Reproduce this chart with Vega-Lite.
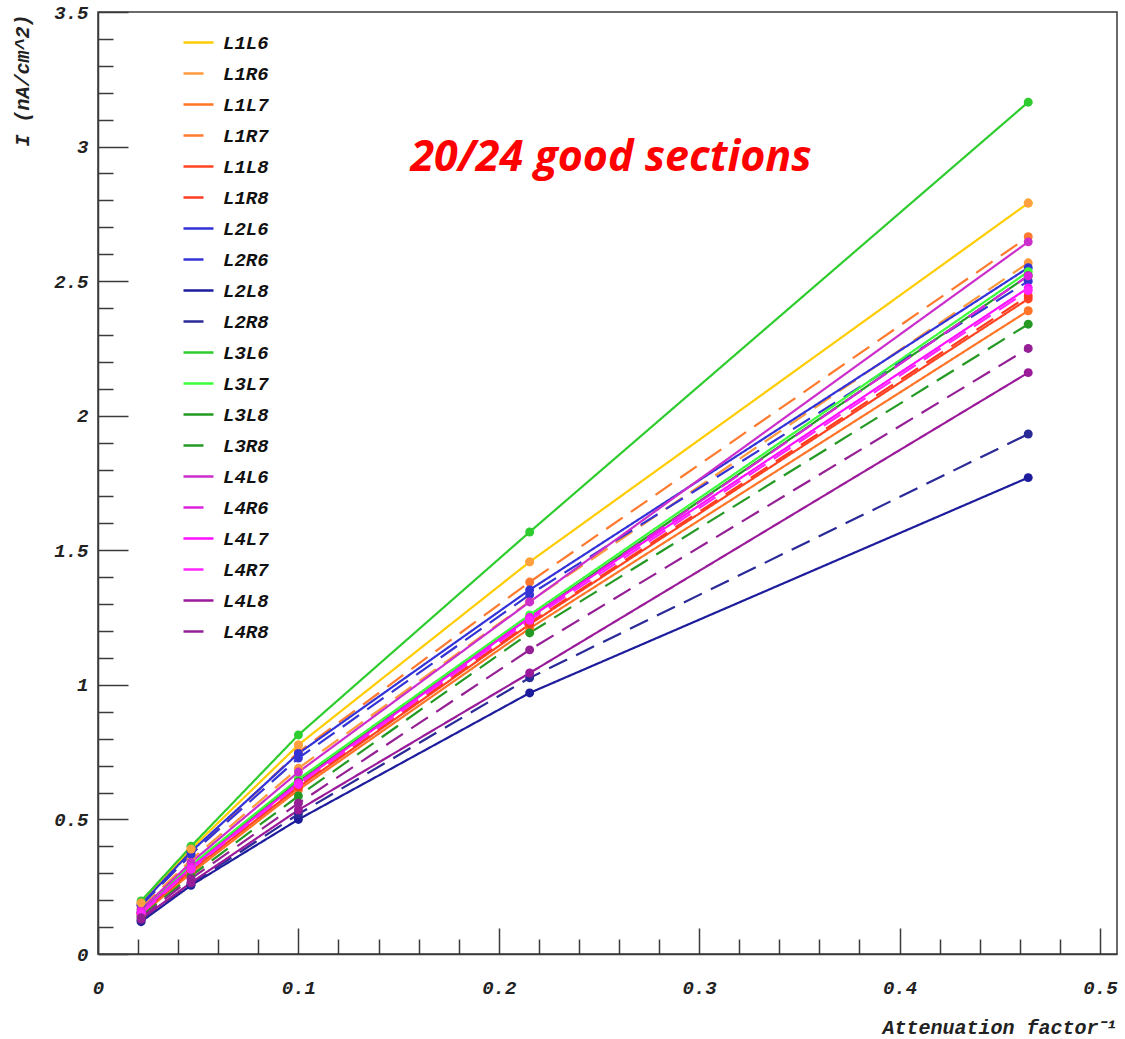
{
  "$schema": "https://vega.github.io/schema/vega-lite/v6.json",
  "width": 1019,
  "height": 942,
  "autosize": {"type": "none"},
  "padding": {"left": 98, "top": 12, "right": 8, "bottom": 85},
  "background": "white",
  "config": {
    "view": {"stroke": "#3a3a3a", "strokeWidth": 1.5},
    "axis": {
      "grid": false,
      "domainColor": "#3a3a3a",
      "domainWidth": 1.5,
      "tickColor": "#3a3a3a",
      "tickWidth": 1.5,
      "labelFont": "Liberation Mono",
      "labelFontStyle": "italic",
      "labelFontWeight": "bold",
      "labelFontSize": 19,
      "labelColor": "#222222",
      "labelFlush": false,
      "labelOverlap": false,
      "labelBound": false,
      "titleFont": "Liberation Mono",
      "titleFontStyle": "italic",
      "titleFontWeight": "bold",
      "titleFontSize": 20,
      "titleColor": "#222222"
    }
  },
  "data": {
    "values": [
      {"series": "L1L6", "x": 0.0215, "y": 0.19}, {"series": "L1L6", "x": 0.0464, "y": 0.39}, {"series": "L1L6", "x": 0.1, "y": 0.777}, {"series": "L1L6", "x": 0.2154, "y": 1.457}, {"series": "L1L6", "x": 0.4642, "y": 2.79},
      {"series": "L1R6", "x": 0.0215, "y": 0.17}, {"series": "L1R6", "x": 0.0464, "y": 0.35}, {"series": "L1R6", "x": 0.1, "y": 0.69}, {"series": "L1R6", "x": 0.2154, "y": 1.31}, {"series": "L1R6", "x": 0.4642, "y": 2.568},
      {"series": "L1L7", "x": 0.0215, "y": 0.145}, {"series": "L1L7", "x": 0.0464, "y": 0.3}, {"series": "L1L7", "x": 0.1, "y": 0.61}, {"series": "L1L7", "x": 0.2154, "y": 1.21}, {"series": "L1L7", "x": 0.4642, "y": 2.39},
      {"series": "L1R7", "x": 0.0215, "y": 0.18}, {"series": "L1R7", "x": 0.0464, "y": 0.37}, {"series": "L1R7", "x": 0.1, "y": 0.75}, {"series": "L1R7", "x": 0.2154, "y": 1.382}, {"series": "L1R7", "x": 0.4642, "y": 2.665},
      {"series": "L1L8", "x": 0.0215, "y": 0.15}, {"series": "L1L8", "x": 0.0464, "y": 0.31}, {"series": "L1L8", "x": 0.1, "y": 0.62}, {"series": "L1L8", "x": 0.2154, "y": 1.225}, {"series": "L1L8", "x": 0.4642, "y": 2.434},
      {"series": "L1R8", "x": 0.0215, "y": 0.15}, {"series": "L1R8", "x": 0.0464, "y": 0.31}, {"series": "L1R8", "x": 0.1, "y": 0.625}, {"series": "L1R8", "x": 0.2154, "y": 1.23}, {"series": "L1R8", "x": 0.4642, "y": 2.445},
      {"series": "L2L6", "x": 0.0215, "y": 0.185}, {"series": "L2L6", "x": 0.0464, "y": 0.38}, {"series": "L2L6", "x": 0.1, "y": 0.745}, {"series": "L2L6", "x": 0.2154, "y": 1.353}, {"series": "L2L6", "x": 0.4642, "y": 2.55},
      {"series": "L2R6", "x": 0.0215, "y": 0.18}, {"series": "L2R6", "x": 0.0464, "y": 0.37}, {"series": "L2R6", "x": 0.1, "y": 0.728}, {"series": "L2R6", "x": 0.2154, "y": 1.335}, {"series": "L2R6", "x": 0.4642, "y": 2.5},
      {"series": "L2L8", "x": 0.0215, "y": 0.12}, {"series": "L2L8", "x": 0.0464, "y": 0.255}, {"series": "L2L8", "x": 0.1, "y": 0.5}, {"series": "L2L8", "x": 0.2154, "y": 0.97}, {"series": "L2L8", "x": 0.4642, "y": 1.77},
      {"series": "L2R8", "x": 0.0215, "y": 0.125}, {"series": "L2R8", "x": 0.0464, "y": 0.26}, {"series": "L2R8", "x": 0.1, "y": 0.52}, {"series": "L2R8", "x": 0.2154, "y": 1.026}, {"series": "L2R8", "x": 0.4642, "y": 1.932},
      {"series": "L3L6", "x": 0.0215, "y": 0.197}, {"series": "L3L6", "x": 0.0464, "y": 0.4}, {"series": "L3L6", "x": 0.1, "y": 0.814}, {"series": "L3L6", "x": 0.2154, "y": 1.568}, {"series": "L3L6", "x": 0.4642, "y": 3.165},
      {"series": "L3L7", "x": 0.0215, "y": 0.16}, {"series": "L3L7", "x": 0.0464, "y": 0.33}, {"series": "L3L7", "x": 0.1, "y": 0.65}, {"series": "L3L7", "x": 0.2154, "y": 1.26}, {"series": "L3L7", "x": 0.4642, "y": 2.535},
      {"series": "L3L8", "x": 0.0215, "y": 0.155}, {"series": "L3L8", "x": 0.0464, "y": 0.32}, {"series": "L3L8", "x": 0.1, "y": 0.64}, {"series": "L3L8", "x": 0.2154, "y": 1.25}, {"series": "L3L8", "x": 0.4642, "y": 2.52},
      {"series": "L3R8", "x": 0.0215, "y": 0.14}, {"series": "L3R8", "x": 0.0464, "y": 0.29}, {"series": "L3R8", "x": 0.1, "y": 0.587}, {"series": "L3R8", "x": 0.2154, "y": 1.193}, {"series": "L3R8", "x": 0.4642, "y": 2.34},
      {"series": "L4L6", "x": 0.0215, "y": 0.165}, {"series": "L4L6", "x": 0.0464, "y": 0.34}, {"series": "L4L6", "x": 0.1, "y": 0.676}, {"series": "L4L6", "x": 0.2154, "y": 1.308}, {"series": "L4L6", "x": 0.4642, "y": 2.646},
      {"series": "L4R6", "x": 0.0215, "y": 0.155}, {"series": "L4R6", "x": 0.0464, "y": 0.32}, {"series": "L4R6", "x": 0.1, "y": 0.635}, {"series": "L4R6", "x": 0.2154, "y": 1.245}, {"series": "L4R6", "x": 0.4642, "y": 2.52},
      {"series": "L4L7", "x": 0.0215, "y": 0.155}, {"series": "L4L7", "x": 0.0464, "y": 0.32}, {"series": "L4L7", "x": 0.1, "y": 0.635}, {"series": "L4L7", "x": 0.2154, "y": 1.25}, {"series": "L4L7", "x": 0.4642, "y": 2.475},
      {"series": "L4R7", "x": 0.0215, "y": 0.15}, {"series": "L4R7", "x": 0.0464, "y": 0.315}, {"series": "L4R7", "x": 0.1, "y": 0.63}, {"series": "L4R7", "x": 0.2154, "y": 1.24}, {"series": "L4R7", "x": 0.4642, "y": 2.465},
      {"series": "L4L8", "x": 0.0215, "y": 0.13}, {"series": "L4L8", "x": 0.0464, "y": 0.265}, {"series": "L4L8", "x": 0.1, "y": 0.535}, {"series": "L4L8", "x": 0.2154, "y": 1.044}, {"series": "L4L8", "x": 0.4642, "y": 2.16},
      {"series": "L4R8", "x": 0.0215, "y": 0.135}, {"series": "L4R8", "x": 0.0464, "y": 0.28}, {"series": "L4R8", "x": 0.1, "y": 0.56}, {"series": "L4R8", "x": 0.2154, "y": 1.13}, {"series": "L4R8", "x": 0.4642, "y": 2.25}
    ]
  },
  "layer": [
    {
      "mark": {"type": "line", "strokeWidth": 2.2},
      "encoding": {
        "x": {
          "field": "x", "type": "quantitative",
          "scale": {"domain": [0, 0.5085], "nice": false, "zero": false},
          "axis": {
            "orient": "bottom",
            "values": [0, 0.1, 0.2, 0.3, 0.4, 0.5],
            "format": ".1~f",
            "tickSize": -26,
            "labelPadding": 50,
            "title": "Attenuation factor⁻¹",
            "titleX": 1019,
            "titleY": 73,
            "titleAlign": "right",
            "titleBaseline": "middle",
            "titleAnchor": "end"
          }
        },
        "y": {
          "field": "y", "type": "quantitative",
          "scale": {"domain": [0, 3.5], "nice": false, "zero": false},
          "axis": {
            "orient": "left",
            "values": [0, 0.5, 1, 1.5, 2, 2.5, 3, 3.5],
            "format": "~g",
            "tickSize": -30,
            "labelPadding": 40,
            "title": "I (nA/cm^2)",
            "titleX": -76,
            "titleY": 2,
            "titleAngle": 270,
            "titleAlign": "right",
            "titleBaseline": "middle",
            "titleAnchor": "end"
          }
        },
        "color": {
          "field": "series", "type": "nominal",
          "scale": {
            "domain": ["L1L6", "L1R6", "L1L7", "L1R7", "L1L8", "L1R8", "L2L6", "L2R6", "L2L8", "L2R8", "L3L6", "L3L7", "L3L8", "L3R8", "L4L6", "L4R6", "L4L7", "L4R7", "L4L8", "L4R8"],
            "range": ["#ffcc00", "#ff9a3c", "#ff7426", "#ff7a2e", "#ff4422", "#ff3a22", "#3232d8", "#3434d4", "#1c1c9c", "#2a2a98", "#2ecc2e", "#3cff3c", "#229b22", "#249a24", "#cc2ecc", "#dd22dd", "#ff10ff", "#ff26ff", "#9a1a9a", "#952095"]
          },
          "legend": {
            "title": null,
            "orient": "none",
            "legendX": 84,
            "legendY": 14,
            "padding": 0,
            "direction": "vertical",
            "symbolType": "stroke",
            "symbolSize": 900,
            "symbolStrokeWidth": 2.5,
            "labelFont": "Liberation Mono",
            "labelFontStyle": "italic",
            "labelFontWeight": "bold",
            "labelFontSize": 19,
            "labelColor": "#111111",
            "labelOffset": 8,
            "rowPadding": 4
          }
        },
        "strokeDash": {
          "field": "series", "type": "nominal",
          "scale": {
            "domain": ["L1L6", "L1R6", "L1L7", "L1R7", "L1L8", "L1R8", "L2L6", "L2R6", "L2L8", "L2R8", "L3L6", "L3L7", "L3L8", "L3R8", "L4L6", "L4R6", "L4L7", "L4R7", "L4L8", "L4R8"],
            "range": [[1, 0], [20, 10], [1, 0], [20, 10], [1, 0], [20, 10], [1, 0], [20, 10], [1, 0], [20, 10], [1, 0], [1, 0], [1, 0], [20, 10], [1, 0], [20, 10], [1, 0], [20, 10], [1, 0], [20, 10]]
          }
        }
      }
    },
    {
      "mark": {"type": "point", "filled": true, "size": 80, "opacity": 1},
      "encoding": {
        "x": {
          "field": "x", "type": "quantitative",
          "axis": {
            "orient": "bottom",
            "values": [0.02, 0.04, 0.06, 0.08, 0.12, 0.14, 0.16, 0.18, 0.22, 0.24, 0.26, 0.28, 0.32, 0.34, 0.36, 0.38, 0.42, 0.44, 0.46, 0.48],
            "tickSize": -15, "labels": false, "domain": false, "title": null
          }
        },
        "y": {
          "field": "y", "type": "quantitative",
          "axis": {
            "orient": "left",
            "values": [0.1, 0.2, 0.3, 0.4, 0.6, 0.7, 0.8, 0.9, 1.1, 1.2, 1.3, 1.4, 1.6, 1.7, 1.8, 1.9, 2.1, 2.2, 2.3, 2.4, 2.6, 2.7, 2.8, 2.9, 3.1, 3.2, 3.3, 3.4],
            "tickSize": -15, "labels": false, "domain": false, "title": null
          }
        },
        "color": {"field": "series", "type": "nominal", "legend": null}
      }
    },
    {
      "transform": [{"filter": "datum.series === 'L1L6'"}],
      "mark": {"type": "point", "filled": true, "size": 80, "opacity": 1, "color": "#ffa040"},
      "encoding": {
        "x": {"field": "x", "type": "quantitative", "axis": null},
        "y": {"field": "y", "type": "quantitative", "axis": null}
      }
    },
    {
      "data": {"values": [{"label": "20/24 good sections"}]},
      "mark": {"type": "text", "font": "Open Sans", "fontSize": 43, "fontStyle": "italic", "fontWeight": "bold", "color": "#ff0000", "align": "center", "baseline": "middle"},
      "encoding": {
        "x": {"datum": 0.256, "type": "quantitative", "axis": null},
        "y": {"datum": 2.958, "type": "quantitative", "axis": null},
        "text": {"field": "label"}
      }
    }
  ],
  "resolve": {"axis": {"x": "independent", "y": "independent"}}
}
